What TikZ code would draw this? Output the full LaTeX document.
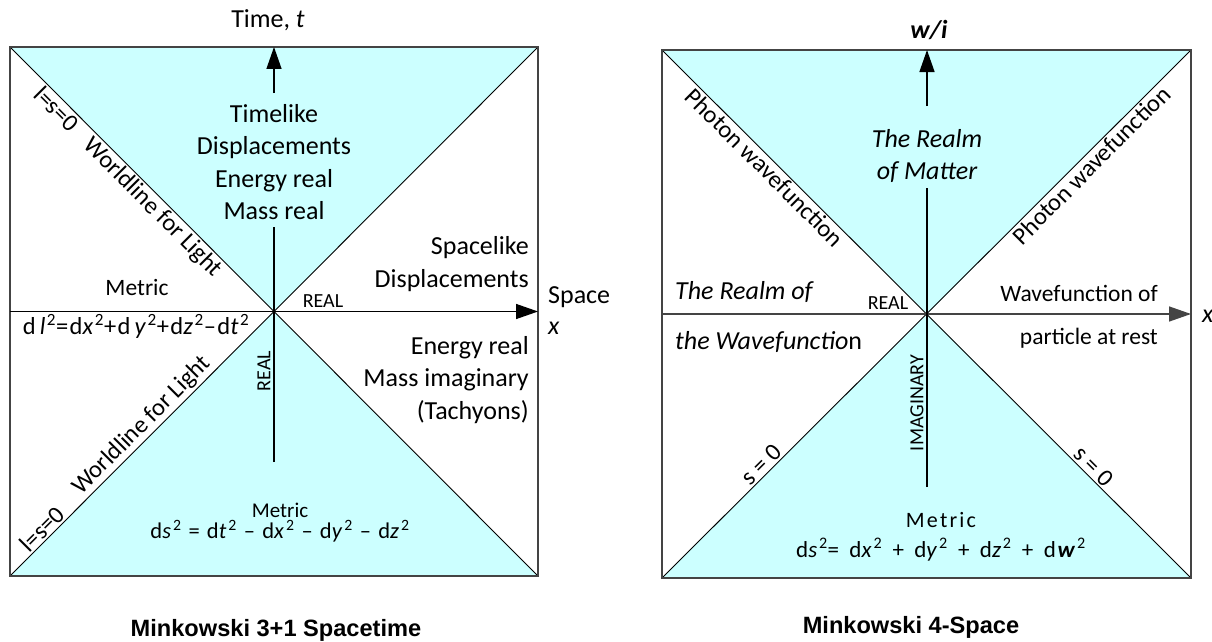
\documentclass[tikz,border=0pt]{standalone}
\usepackage{fontspec}
\setmainfont{Carlito}
\newfontfamily\titlefont{Liberation Sans}
\usetikzlibrary{arrows.meta}
\definecolor{lcyan}{HTML}{CCFFFF}
\definecolor{bordergray}{HTML}{444444}
\newcommand{\sq}{\textsuperscript{2}}
\newcommand{\wsp}{\hspace{0.45em}}
\begin{document}
\begin{tikzpicture}[x=1pt,y=-1pt,
  big/.style={font=\fontsize{26}{32.5}\selectfont, inner sep=0pt, align=center},
  diaglbl/.style={font=\fontsize{24.5}{30}\selectfont, inner sep=2pt, sloped},
  smalllbl/.style={font=\fontsize{20}{24}\selectfont, inner sep=0pt},
  mid/.style={font=\fontsize{23.5}{29}\selectfont, inner sep=0pt},
  titlelbl/.style={font=\titlefont\bfseries\fontsize{23.6}{28}\selectfont, inner sep=0pt},
  frame/.style={draw=bordergray, line width=1.4pt},
  diagline/.style={draw=black, line width=0.9pt},
  axisline/.style={draw=black, line width=1.4pt},
  axisarrow/.style={axisline, -{Triangle[length=22pt,width=15pt]}},
  cone/.style={fill=lcyan}
]
\useasboundingbox (0,0) rectangle (1212,642);
\fill[white] (0,0) rectangle (1212,642);

% ---------------- Left diagram ----------------
\coordinate (LA) at (10,47);
\coordinate (LB) at (538,47);
\coordinate (LC) at (538,576);
\coordinate (LD) at (10,576);
\coordinate (LO) at (274,311.5);
\coordinate (LHl) at (10,311.5);
\coordinate (LHr) at (538,311.5);
\coordinate (LVtop) at (274,47);
\coordinate (LVa) at (274,93);
\coordinate (LVb) at (274,227);
\coordinate (LVbot) at (274,462);

\fill[cone] (LA) -- (LB) -- (LO) -- cycle;
\fill[cone] (LD) -- (LC) -- (LO) -- cycle;
\draw[diagline] (LA) -- (LC);
\draw[diagline] (LD) -- (LB);
\draw[frame] (LA) rectangle (LC);
\draw[axisarrow] (LHl) -- (LHr);
\draw[axisline] (LVbot) -- (LVb);
\draw[axisarrow] (LVa) -- (LVtop);

\path (LA) -- (LO)
  node[diaglbl, pos=0.574, anchor=north] (wll1) {Worldline for Light}
  node[diaglbl, pos=0.205, anchor=north] (lss1) {l=s=0};
\path (LD) -- (LO)
  node[diaglbl, pos=0.534, anchor=south] (wll2) {Worldline for Light}
  node[diaglbl, pos=0.15, anchor=south] (lss2) {l=s=0};

\node[big] (time) at (268,20) {Time, \textit{t}};
\node[big] (timelike) at (274,162) {Timelike\\Displacements\\Energy real\\Mass real};
\node[mid] (metricL) at (137,287) {Metric};
\node[font=\fontsize{24.5}{29}\selectfont\addfontfeatures{LetterSpace=6}, inner sep=0pt] (dlform) at (136,326) {d\,\textit{l}\sq=d\textit{x}\sq+d\,\textit{y}\sq+d\textit{z}\sq–d\textit{t}\sq};
\node[smalllbl] (realH) at (323,301) {REAL};
\node[smalllbl, rotate=90] (realV) at (264,371) {REAL};
\node[big, align=right, anchor=east] (spacelike) at (529,264) {Spacelike\\Displacements};
\node[big, align=right, anchor=east] (tachy) at (529,380) {Energy real\\Mass imaginary\\(Tachyons)};
\node[big, anchor=west] (space) at (548,297) {Space};
\node[big, anchor=west] (xlab) at (548,328) {\textit{x}};
\node[font=\fontsize{21}{26}\selectfont, inner sep=0pt] (metricB) at (280,510) {Metric};
\node[font=\fontsize{22.5}{27}\selectfont\addfontfeatures{LetterSpace=9}, inner sep=0pt] (dsform) at (280,531) {d\textit{s}\sq{} = d\textit{t}\sq{} – d\textit{x}\sq{} – d\textit{y}\sq{} – d\textit{z}\sq};
\node[titlelbl] (title1) at (276,630) {Minkowski 3+1 Spacetime};

% ---------------- Right diagram ----------------
\coordinate (RA) at (662,50);
\coordinate (RB) at (1191,50);
\coordinate (RC) at (1191,578);
\coordinate (RD) at (662,578);
\coordinate (RO) at (927,314);
\coordinate (RHl) at (662,314);
\coordinate (RHr) at (1191,314);
\coordinate (RVtop) at (927,50);
\coordinate (RVa) at (927,106);
\coordinate (RVb) at (927,188);
\coordinate (RVbot) at (927,487);

\fill[cone] (RA) -- (RB) -- (RO) -- cycle;
\fill[cone] (RD) -- (RC) -- (RO) -- cycle;
\draw[diagline] (RA) -- (RC);
\draw[diagline] (RD) -- (RB);
\draw[frame] (RA) rectangle (RC);
\draw[axisarrow, draw=bordergray] (RHl) -- (RHr);
\draw[axisline] (RVbot) -- (RVb);
\draw[axisarrow] (RVa) -- (RVtop);

\path (RA) -- (RO) node[diaglbl, pos=0.417, anchor=north] (ph1) {Photon wavefunction};
\path (RO) -- (RB) node[diaglbl, pos=0.593, anchor=north] (ph2) {Photon wavefunction};
\path (RD) -- (RO) node[diaglbl, pos=0.402, anchor=south] (s0a) {s = 0};
\path (RO) -- (RC) node[diaglbl, pos=0.604, anchor=south] (s0b) {s = 0};

\node[big] (wi) at (929,30) {\textbf{\textit{w/i}}};
\node[big, font=\fontsize{26}{32.5}\selectfont\itshape] (matter) at (927,156) {The Realm\\of Matter};
\node[big, anchor=west] (realmof) at (675,292) {\textit{The Realm of}};
\node[big, anchor=west] (thewave) at (675,342) {\textit{the Wavefunctio}n};
\node[smalllbl] (real2) at (888,303) {REAL};
\node[smalllbl, rotate=90] (imag) at (917,403) {IMAGINARY};
\node[mid, anchor=east] (wavefn) at (1158,293) {Wavefunction of};
\node[mid, anchor=east] (rest) at (1158,338) {particle at rest};
\node[font=\fontsize{22}{26}\selectfont\addfontfeatures{LetterSpace=10}, inner sep=0pt] (metricR) at (941,520) {Metric};
\node[font=\fontsize{23}{27}\selectfont\addfontfeatures{LetterSpace=8}, inner sep=0pt] (dsR) at (941,550) {d\textit{s}\sq=\wsp d\textit{x}\sq\wsp+\wsp d\textit{y}\sq\wsp+\wsp d\textit{z}\sq\wsp+\wsp d\textbf{\textit{w}}\sq};
\node[big, anchor=west] (xlab2) at (1202,316) {\textit{x}};
\node[titlelbl] (title2) at (911,627) {Minkowski 4-Space};
\end{tikzpicture}
\end{document}
